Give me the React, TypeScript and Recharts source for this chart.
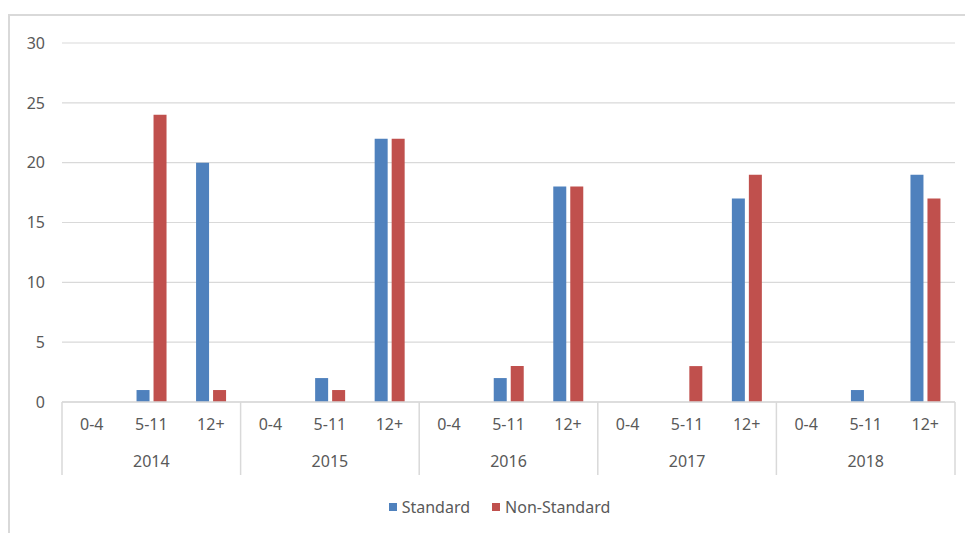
import React from "react";
import {
  BarChart,
  Bar,
  XAxis,
  YAxis,
  CartesianGrid,
  Legend,
} from "recharts";

const years = ["2014", "2015", "2016", "2017", "2018"];
const ageGroups = ["0-4", "5-11", "12+"];
const standard = [0, 1, 20, 0, 2, 22, 0, 2, 18, 0, 0, 17, 0, 1, 19];
const nonStandard = [0, 24, 1, 0, 1, 22, 0, 3, 18, 0, 3, 19, 0, 0, 17];
const yTicks = [0, 5, 10, 15, 20, 25, 30];

const data = standard.map((s, i) => ({
  age: ageGroups[i % 3],
  year: years[Math.floor(i / 3)],
  standard: s,
  nonStandard: nonStandard[i],
}));

const BLUE = "#4F81BD";
const RED = "#C0504D";
const GRID = "#D9D9D9";
const TEXT = "#595959";
const FONT = "'Noto Sans', sans-serif";
const FS = 16;

const CHART_W = 963;
const CHART_H = 517;
const MARGIN = { top: 27, right: 18, left: 0, bottom: 38 };
const Y_W = 52;
const PLOT_W = CHART_W - MARGIN.left - MARGIN.right - Y_W;
const STEP = PLOT_W / data.length;

const GroupTick = (props: any) => {
  const { x, y, payload, index } = props;
  const i = index ?? payload.index;
  const row = data[i];
  return (
    <g>
      <text x={x} y={y + 28} textAnchor="middle" fill={TEXT} fontSize={FS} fontFamily={FONT}>
        {payload.value}
      </text>
      {i % 3 === 1 && (
        <text x={x} y={y + 65} textAnchor="middle" fill={TEXT} fontSize={FS} fontFamily={FONT}>
          {row.year}
        </text>
      )}
      {i % 3 === 0 && (
        <line x1={x - STEP / 2} x2={x - STEP / 2} y1={y} y2={y + 73} stroke={GRID} strokeWidth={1.5} />
      )}
      {i === data.length - 1 && (
        <line x1={x + STEP / 2} x2={x + STEP / 2} y1={y} y2={y + 73} stroke={GRID} strokeWidth={1.5} />
      )}
    </g>
  );
};

// legend sits centred on the whole frame, a bit right of the chart centre
const LegendContent = () => (
  <div
    style={{
      height: 20,
      paddingLeft: 34,
      display: "flex",
      justifyContent: "center",
      alignItems: "center",
      fontFamily: FONT,
      fontSize: FS,
      color: TEXT,
    }}
  >
    <span style={{ display: "flex", alignItems: "center", marginRight: 22 }}>
      <span style={{ width: 8, height: 8, background: BLUE, marginRight: 5 }} />
      Standard
    </span>
    <span style={{ display: "flex", alignItems: "center" }}>
      <span style={{ width: 8, height: 8, background: RED, marginRight: 5 }} />
      Non-Standard
    </span>
  </div>
);

export default function App() {
  return (
    <div
      style={{
        marginTop: 6,
        width: 990,
        height: 540,
        borderTop: `2px solid ${GRID}`,
        borderLeft: `2px solid ${GRID}`,
        boxSizing: "border-box",
      }}
    >
      <BarChart
        width={CHART_W}
        height={CHART_H}
        data={data}
        margin={MARGIN}
        barSize={13}
        barGap={4}
      >
        <CartesianGrid vertical={false} stroke={GRID} strokeWidth={1.2} />
        <XAxis
          dataKey="age"
          interval={0}
          height={73}
          axisLine={{ stroke: GRID, strokeWidth: 1.5 }}
          tickLine={false}
          tickSize={0}
          tickMargin={0}
          tick={<GroupTick />}
        />
        <YAxis
          width={Y_W}
          domain={[0, 30]}
          ticks={yTicks}
          axisLine={false}
          tickLine={false}
          tickSize={0}
          tickMargin={17}
          tick={{ fill: TEXT, fontSize: FS, fontFamily: FONT }}
        />
        <Legend
          verticalAlign="bottom"
          content={<LegendContent />}
          wrapperStyle={{ bottom: 16 }}
        />
        <Bar dataKey="standard" name="Standard" fill={BLUE} isAnimationActive={false} />
        <Bar dataKey="nonStandard" name="Non-Standard" fill={RED} isAnimationActive={false} />
      </BarChart>
    </div>
  );
}
